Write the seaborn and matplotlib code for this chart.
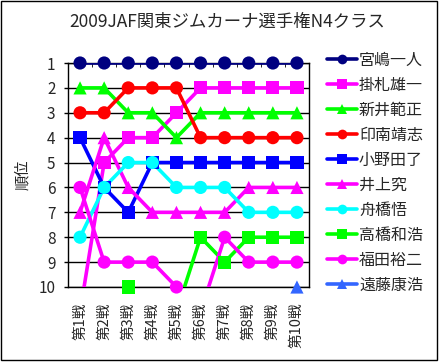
import numpy as np
import pandas as pd
import matplotlib
matplotlib.use("Agg")
import matplotlib.pyplot as plt
from matplotlib.lines import Line2D
from matplotlib.patches import Rectangle
import seaborn as sns

# 11 = out of the top 10 (drawn below the plot, clipped)
rounds = ["第1戦", "第2戦", "第3戦", "第4戦", "第5戦", "第6戦", "第7戦", "第8戦", "第9戦", "第10戦"]
drivers = ["宮嶋一人", "掛札雄一", "新井範正", "印南靖志", "小野田了",
           "井上究", "舟橋悟", "高橋和浩", "福田裕二", "遠藤康浩"]
miyajima = [1, 1, 1, 1, 1, 1, 1, 1, 1, 1]
kakefuda = [11, 5, 4, 4, 3, 2, 2, 2, 2, 2]
arai = [2, 2, 3, 3, 4, 3, 3, 3, 3, 3]
innami = [3, 3, 2, 2, 2, 4, 4, 4, 4, 4]
onoda = [4, 6, 7, 5, 5, 5, 5, 5, 5, 5]
inoue = [7, 4, 6, 7, 7, 7, 7, 6, 6, 6]
funahashi = [8, 6, 5, 5, 6, 6, 6, 7, 7, 7]
takahashi = [11, 11, 10, 11, 11, 8, 9, 8, 8, 8]
fukuda = [6, 9, 9, 9, 10, 11, 8, 9, 9, 9]
endo = [11, 11, 11, 11, 11, 11, 11, 11, 11, 10]
ranks = [miyajima, kakefuda, arai, innami, onoda, inoue, funahashi, takahashi, fukuda, endo]

colors = ["#000080", "#FF00FF", "#00FF00", "#FF0000", "#0000FF",
          "#FF00FF", "#00FFFF", "#00FF00", "#FF00FF", "#3366FF"]
marks = ["o", "s", "^", "o", "s", "^", "o", "s", "o", "^"]

rows = []
for name, vals in zip(drivers, ranks):
    for i, v in enumerate(vals):
        rows.append({"round": i, "rank": v, "driver": name})
df = pd.DataFrame(rows)

sns.set_style("white")
plt.rcParams["font.family"] = ["Noto Sans CJK JP", "DejaVu Sans"]

fig = plt.figure(figsize=(4.45, 3.64), dpi=100)
ax = fig.add_axes([68/445, 1-287/364, 241/445, 224/364])

palette = dict(zip(drivers, colors))
sns.lineplot(data=df, x="round", y="rank", hue="driver", hue_order=drivers,
             palette=palette, linewidth=2.6, legend=False, sort=False,
             estimator=None, ax=ax, zorder=3)
shown = df[df["rank"] <= 10]
sns.scatterplot(data=shown, x="round", y="rank", hue="driver", style="driver",
                hue_order=drivers, style_order=drivers, palette=palette,
                markers=dict(zip(drivers, marks)), s=90, linewidth=0,
                legend=False, clip_on=False, ax=ax, zorder=4)

ax.set_xlim(-0.5, 9.5)
ax.set_ylim(10, 1)
ax.set_yticks(range(1, 11))
ax.set_yticklabels([str(i) for i in range(1, 11)], fontsize=11)
ax.set_xticks(range(10))
ax.set_xticklabels(rounds, rotation=90, fontsize=10.5)
ax.set_xticks(np.arange(-0.5, 10, 1), minor=True)
ax.tick_params(axis="x", which="major", length=0, pad=11)
ax.tick_params(axis="x", which="minor", top=True, bottom=False, direction="in", length=3, color="black")
ax.tick_params(axis="y", which="major", left=True, length=3, width=1, color="black", pad=6)
ax.grid(axis="y", color="black", linewidth=1)
ax.grid(axis="x", visible=False)
for sp in ax.spines.values():
    sp.set_color("black")
    sp.set_linewidth(1)
ax.set_xlabel("")
ax.set_ylabel("順位", fontsize=11)
ax.yaxis.set_label_coords(-0.155, 0.5)

fig.text(227/445, 1-22/364, "2009JAF関東ジムカーナ選手権N4クラス", ha="center", va="center", fontsize=12.5)

handles = [Line2D([], [], color=c, marker=m, markersize=7, linewidth=2.6, markeredgewidth=0)
           for c, m in zip(colors, marks)]
fig.legend(handles, drivers, loc="upper left", bbox_to_anchor=(327/445, 1-52/364),
           frameon=False, fontsize=11.5, handlelength=1.9, handletextpad=0.1,
           labelspacing=0.5, borderpad=0, borderaxespad=0)

fig.patches.append(Rectangle((1/445, 1-360/364), 436/445, 359/364, transform=fig.transFigure,
                             fill=False, edgecolor="black", linewidth=1))
fig.savefig("out.png", dpi=100)
